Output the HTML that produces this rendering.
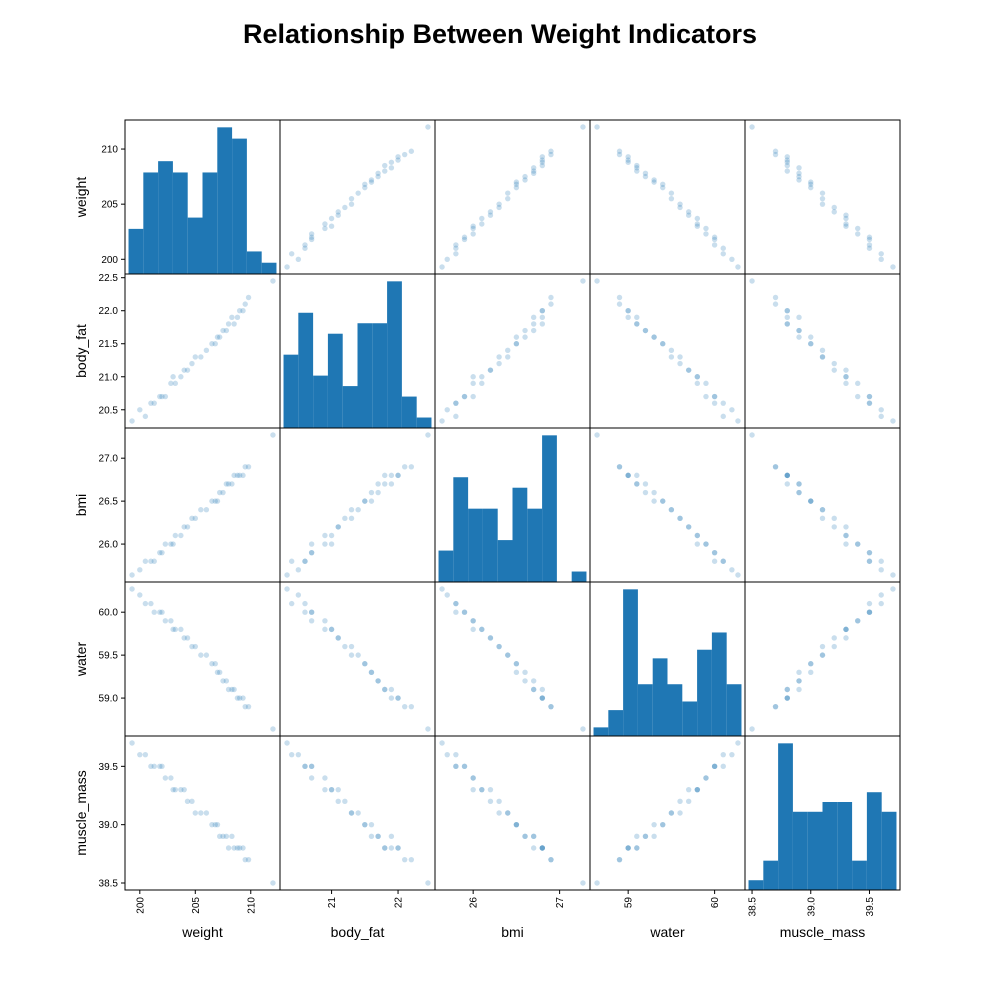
<!DOCTYPE html>
<html><head><meta charset="utf-8"><style>body{margin:0;background:#fff}svg{display:block;font-family:"Liberation Sans",sans-serif}</style></head>
<body>
<svg id="chart" width="1000" height="1000" viewBox="0 0 1000 1000">
<rect width="1000" height="1000" fill="#fff"/>
<text x="500" y="43" text-anchor="middle" font-size="27" font-weight="bold">Relationship Between Weight Indicators</text>
<g id="plots"></g>
</svg>
<script>
const varNames = ["weight","body_fat","bmi","water","muscle_mass"];
const weight = [212.0,199.3,200.0,200.5,201.0,201.3,201.8,202.0,202.3,202.8,203.0,203.2,203.7,204.0,204.3,204.7,205.0,205.5,206.0,206.5,206.8,207.0,207.2,207.5,207.8,208.0,208.3,208.5,208.8,209.0,209.3,209.5,209.8];
const bodyFat = [22.45,20.33,20.5,20.4,20.6,20.6,20.7,20.7,20.7,20.9,21.0,20.9,21.0,21.1,21.1,21.2,21.3,21.3,21.4,21.5,21.5,21.6,21.6,21.7,21.7,21.8,21.9,21.8,21.9,22.0,22.0,22.1,22.2];
const bmi = [27.27,25.64,25.7,25.8,25.8,25.8,25.9,25.9,26.0,26.0,26.0,26.1,26.1,26.2,26.2,26.3,26.3,26.4,26.4,26.5,26.5,26.5,26.6,26.6,26.7,26.7,26.7,26.8,26.8,26.8,26.8,26.9,26.9];
const water = [58.64,60.27,60.2,60.1,60.1,60.0,60.0,60.0,59.9,59.9,59.8,59.8,59.8,59.7,59.7,59.6,59.6,59.5,59.5,59.4,59.4,59.3,59.3,59.2,59.2,59.1,59.1,59.1,59.0,59.0,59.0,58.9,58.9];
const muscleMass = [38.5,39.7,39.6,39.6,39.5,39.5,39.5,39.5,39.4,39.4,39.3,39.3,39.3,39.3,39.2,39.2,39.1,39.1,39.1,39.0,39.0,39.0,38.9,38.9,38.9,38.8,38.9,38.8,38.8,38.8,38.8,38.7,38.7];
const histWeight = [4,9,10,9,5,9,13,12,2,1];
const histBodyFat = [7,11,5,9,4,10,10,14,3,1];
const histBmi = [3,10,7,7,4,9,7,14,0,1];
const histWater = [1,3,17,6,9,6,4,10,12,6];
const histMuscle = [1,3,15,8,8,9,9,3,10,8];
const yTicks = [["200","205","210"],["20.5","21.0","21.5","22.0","22.5"],["26.0","26.5","27.0"],["59.0","59.5","60.0"],["38.5","39.0","39.5"]];
const xTicks = [["200","205","210"],["21","22"],["26","27"],["59","60"],["38.5","39.0","39.5"]];

const cols=[weight,bodyFat,bmi,water,muscleMass];
const hists=[histWeight,histBodyFat,histBmi,histWater,histMuscle];
const X0=125,Y0=120,W=155,H=154,N=5;
const NS="http://www.w3.org/2000/svg";
const g=document.getElementById('plots');
function mk(tag,attrs,parent){const e=document.createElementNS(NS,tag);for(const k in attrs)e.setAttribute(k,attrs[k]);(parent||g).appendChild(e);return e;}
const ranges=cols.map(c=>{const mn=Math.min(...c),mx=Math.max(...c),p=(mx-mn)*0.05;return [mn-p,mx+p,mn,mx];});
function sx(j,v){const r=ranges[j];return X0+j*W+(v-r[0])/(r[1]-r[0])*W;}
function sy(i,v){const r=ranges[i];return Y0+(i+1)*H-(v-r[0])/(r[1]-r[0])*H;}
for(let i=0;i<N;i++){for(let j=0;j<N;j++){
  const cg=mk('g',{});
  
  
  if(i===j){
    const h=hists[i],mx=Math.max(...h)*1.05,r=ranges[j],span=(r[3]-r[2]),lo=r[2]-span*0.025,bw=span*1.05/h.length;
    h.forEach((c,k)=>{
      const x1=sx(j,lo+k*bw),x2=sx(j,lo+(k+1)*bw),hh=c/mx*H;
      const b=mk('rect',{x:x1,y:Y0+(i+1)*H-hh,width:x2-x1,height:hh,fill:'#1f77b4'},cg);
      
      
    });
  } else {
    cols[j].forEach((v,k)=>{
      const p=mk('circle',{cx:sx(j,v),cy:sy(i,cols[i][k]),r:2.7,fill:'#1f77b4','fill-opacity':0.24},cg);
      
      
    });
  }
  const fr=mk('rect',{x:X0+j*W,y:Y0+i*H,width:W,height:H,fill:'none',stroke:'#000','stroke-width':1},cg);
  
  
}}
for(let i=0;i<N;i++){
  yTicks[i].forEach(t=>{
    const y=sy(i,parseFloat(t));
    const l=mk('line',{x1:X0-4,x2:X0,y1:y,y2:y,stroke:'#000'});
    
    
    const tx=mk('text',{x:X0-7,y:y+3.5,'text-anchor':'end','font-size':10});
    tx.textContent=t;
    
    
  });
  const yl=mk('text',{x:0,y:0,transform:`translate(86 ${Y0+i*H+H/2}) rotate(-90)`,'text-anchor':'middle','font-size':14});
  yl.textContent=varNames[i];
  
  
}
for(let j=0;j<N;j++){
  const yb=Y0+N*H;
  xTicks[j].forEach(t=>{
    const x=sx(j,parseFloat(t));
    const l=mk('line',{x1:x,x2:x,y1:yb,y2:yb+4,stroke:'#000'});
    
    
    const tx=mk('text',{x:0,y:0,transform:`translate(${x+3.5} ${yb+7}) rotate(-90)`,'text-anchor':'end','font-size':10});
    tx.textContent=t;
    
    
  });
  const xl=mk('text',{x:X0+j*W+W/2,y:937,'text-anchor':'middle','font-size':14});
  xl.textContent=varNames[j];
  
  
}
</script>
</body></html>
